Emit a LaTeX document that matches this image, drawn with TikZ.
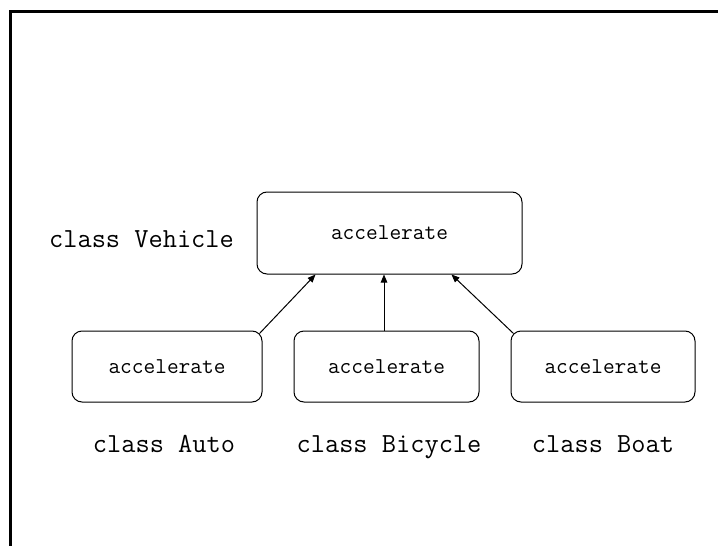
\documentclass[tikz,border=0pt]{standalone}
\usetikzlibrary{arrows.meta,calc}

\tikzset{
  method/.style={draw, line width=1pt, rounded corners=10pt, inner sep=0pt,
    font=\ttfamily\fontsize{22.7}{26}\selectfont},
  classlabel/.style={inner sep=0pt, anchor=base,
    font=\ttfamily\fontsize{27.6}{32}\selectfont},
  inherit/.style={line width=1pt, -{Triangle[length=8pt,width=6.5pt]}},
  frame/.style={line width=2.5pt}
}

\begin{document}
\begin{tikzpicture}[x=1pt, y=-1pt]
  \useasboundingbox (0,0) rectangle (718,546);

  % partial outer frame (top and left edges)
  \coordinate (ftl) at (10.5,11.5);
  \coordinate (ftr) at (718,11.5);
  \coordinate (fbl) at (10.5,546);
  \draw[frame] (ftr) -- (ftl) -- (fbl);

  % base class
  \node[method, minimum width=265pt, minimum height=82pt] (vehicle) at (389.5,233) {accelerate};
  \node[classlabel] (vehiclelbl) at (141.5,247) {class Vehicle};

  % subclasses
  \node[method, minimum width=190pt, minimum height=71pt] (auto) at (167,366.5) {accelerate};
  \node[method, minimum width=185pt, minimum height=71pt] (bicycle) at (386.5,366.5) {accelerate};
  \node[method, minimum width=184pt, minimum height=71pt] (boat) at (603,366.5) {accelerate};

  \node[classlabel] (autolbl) at (164,452) {class Auto};
  \node[classlabel] (bicyclelbl) at (389,452) {class Bicycle};
  \node[classlabel] (boatlbl) at (603,452) {class Boat};

  % inheritance arrows
  \coordinate (bicycletop) at ($(bicycle.north)+(-2.5,0)$);
  \draw[inherit] ($(auto.north east)+(-3,3)$) -- ($(vehicle.south west)+(59,0)$);
  \draw[inherit] (bicycletop) -- (bicycletop |- vehicle.south);
  \draw[inherit] ($(boat.north west)+(3,3)$) -- ($(vehicle.south east)+(-71,0)$);
\end{tikzpicture}
\end{document}
